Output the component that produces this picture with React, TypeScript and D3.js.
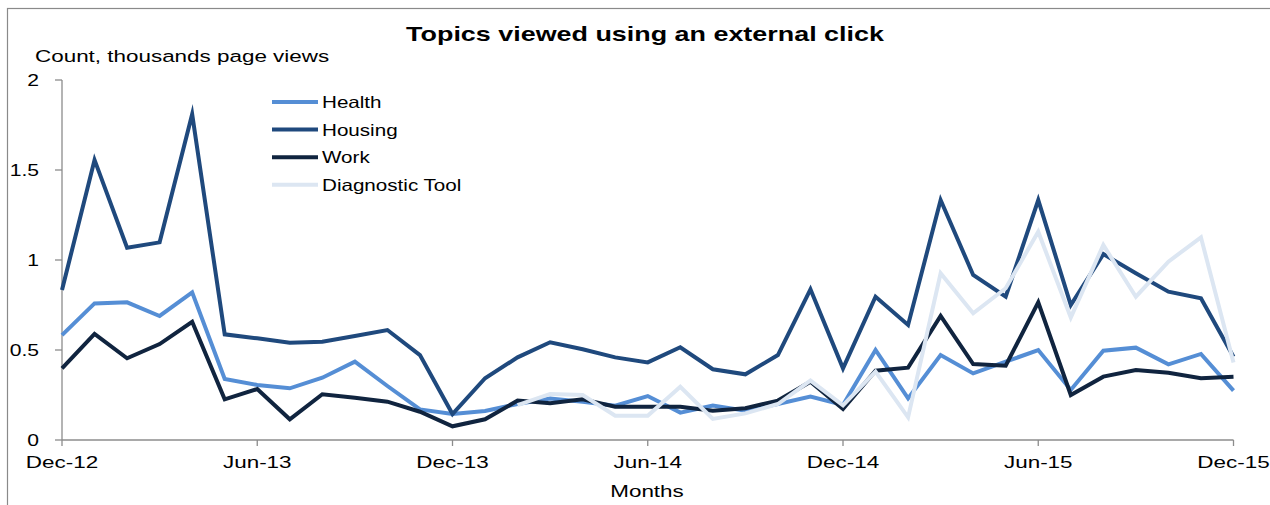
import React from "react";
import * as d3 from "d3";

const months: string[] = d3.timeMonth
  .range(new Date(2012, 11, 1), new Date(2016, 0, 1))
  .map((d) => d3.timeFormat("%b-%y")(d));

const tickLabels = ["Dec-12", "Jun-13", "Dec-13", "Jun-14", "Dec-14", "Jun-15", "Dec-15"];
const yTicks = [0, 0.5, 1, 1.5, 2];

const health = [0.583,0.759,0.765,0.689,0.820,0.339,0.306,0.287,0.346,0.435,0.300,0.170,0.144,0.161,0.200,0.231,0.213,0.191,0.244,0.152,0.191,0.163,0.200,0.241,0.195,0.500,0.231,0.472,0.370,0.435,0.500,0.278,0.496,0.513,0.420,0.478,0.274];
const housing = [0.833,1.556,1.068,1.098,1.810,0.587,0.565,0.540,0.546,0.578,0.611,0.472,0.144,0.343,0.459,0.543,0.504,0.459,0.431,0.515,0.393,0.365,0.472,0.837,0.398,0.796,0.639,1.333,0.917,0.796,1.333,0.750,1.033,0.926,0.824,0.787,0.463];
const work = [0.398,0.589,0.454,0.533,0.657,0.226,0.283,0.115,0.254,0.235,0.213,0.157,0.076,0.115,0.219,0.204,0.226,0.185,0.185,0.185,0.163,0.176,0.219,0.324,0.173,0.385,0.402,0.689,0.422,0.413,0.765,0.250,0.352,0.389,0.374,0.343,0.352];
const diagnostic: (number | null)[] = [null,null,null,null,null,null,null,null,null,null,null,null,null,null,0.194,0.256,0.250,0.135,0.135,0.296,0.117,0.148,0.200,0.330,0.192,0.380,0.126,0.926,0.704,0.843,1.157,0.681,1.083,0.796,0.991,1.126,0.430];

const seriesNames = ["Health", "Housing", "Work", "Diagnostic Tool"];
const seriesColors = ["#558ED5", "#1F497D", "#10243F", "#DCE6F2"];
const seriesData = [health, housing, work, diagnostic];

const FONT = "'Liberation Sans', Arial, sans-serif";

function SText(props: {
  x: number; y: number; size: number; sx: number; anchor?: string; bold?: boolean; children: React.ReactNode;
}) {
  const { x, y, size, sx, anchor = "start", bold = false, children } = props;
  return (
    <g transform={`translate(${x},${y}) scale(${sx},1)`}>
      <text
        x={0}
        y={0}
        fontFamily={FONT}
        fontSize={size}
        fontWeight={bold ? "bold" : "normal"}
        textAnchor={anchor}
        fill="#000"
      >
        {children}
      </text>
    </g>
  );
}

export default function App() {
  const W = 1270, H = 505;
  const x = d3.scaleLinear().domain([0, months.length - 1]).range([62, 1233.5]);
  const y = d3.scaleLinear().domain([0, 2]).range([440, 80]);
  const line = d3
    .line<number | null>()
    .defined((d) => d !== null)
    .x((_, i) => x(i))
    .y((d) => y(d as number));

  const axisColor = "#8C8C8C";
  const tickIdx = tickLabels.map((t) => months.indexOf(t));

  return (
    <div style={{ position: "absolute", left: 0, top: 0 }}>
      <svg width={W} height={H} style={{ display: "block", background: "#fff" }}>
        <rect x={7.5} y={8.5} width={1400} height={600} fill="none" stroke="#8A8A8A" strokeWidth={1.2} />

        <SText x={645} y={41} size={19.5} sx={1.38} anchor="middle" bold>
          Topics viewed using an external click
        </SText>
        <SText x={35} y={62} size={17} sx={1.32}>
          Count, thousands page views
        </SText>

        {/* y axis */}
        <line x1={62} x2={62} y1={y(2)} y2={y(0)} stroke={axisColor} strokeWidth={1.3} />
        {yTicks.map((t) => (
          <g key={t}>
            <line x1={55} x2={62} y1={y(t)} y2={y(t)} stroke={axisColor} strokeWidth={1.3} />
            <SText x={39} y={y(t) + 6} size={16.5} sx={1.28} anchor="end">
              {String(t)}
            </SText>
          </g>
        ))}

        {/* x axis */}
        <line x1={x(0)} x2={x(months.length - 1)} y1={y(0)} y2={y(0)} stroke={axisColor} strokeWidth={1.3} />
        {tickIdx.map((i, k) => (
          <g key={i}>
            <line x1={x(i)} x2={x(i)} y1={y(0)} y2={y(0) + 6} stroke={axisColor} strokeWidth={1.3} />
            <SText x={x(i)} y={468} size={17} sx={1.32} anchor="middle">
              {tickLabels[k]}
            </SText>
          </g>
        ))}
        <SText x={647} y={497} size={17} sx={1.32} anchor="middle">
          Months
        </SText>

        {/* series */}
        {seriesData.map((s, k) => (
          <path
            key={seriesNames[k]}
            d={line(s) || ""}
            fill="none"
            stroke={seriesColors[k]}
            strokeWidth={4}
            strokeLinejoin="miter"
            strokeMiterlimit={10}
          />
        ))}

        {/* legend */}
        {seriesNames.map((n, k) => {
          const ly = 102 + k * 27.6;
          return (
            <g key={n}>
              <line x1={272} x2={318} y1={ly} y2={ly} stroke={seriesColors[k]} strokeWidth={4} />
              <SText x={322} y={ly + 6} size={16.5} sx={1.25}>
                {n}
              </SText>
            </g>
          );
        })}
      </svg>
    </div>
  );
}
